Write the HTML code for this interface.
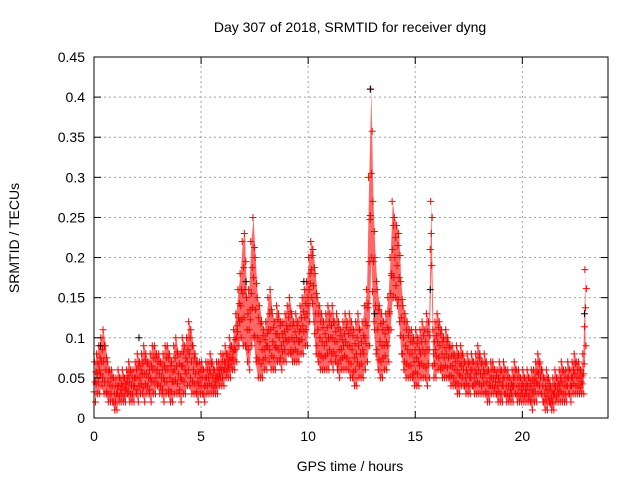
<!DOCTYPE html>
<html><head><meta charset="utf-8"><style>
body{margin:0;background:#fff;}
svg text{font-family:"Liberation Sans",sans-serif;font-size:14px;fill:#000;}
</style></head><body>
<svg id="chart" width="640" height="480">
<text x="350" y="32" text-anchor="middle">Day 307 of 2018, SRMTID for receiver dyng</text>
<text x="0" y="0" transform="translate(19,238) rotate(-90)" text-anchor="middle">SRMTID / TECUs</text>
<text x="350" y="471" text-anchor="middle">GPS time / hours</text>
<g id="grid"></g>
<g id="marks"></g>
<rect x="94" y="57" width="514" height="361" fill="none" stroke="#000" stroke-width="1"/>
<g id="ticks"></g>
</svg>
<script>
const xTicks=[0,5,10,15,20];
const yTicks=[0,0.05,0.1,0.15,0.2,0.25,0.3,0.35,0.4,0.45];
const yTickLabels=["0","0.05","0.1","0.15","0.2","0.25","0.3","0.35","0.4","0.45"];
const binStart=0, binStep=0.1;
const hiVals=[.07,.08,.09,.10,.11,.09,.07,.06,.06,.05,
.05,.06,.05,.06,.05,.06,.07,.06,.06,.07,
.08,.07,.08,.09,.08,.07,.08,.09,.09,.08,
.08,.07,.08,.09,.09,.08,.07,.09,.10,.08,
.08,.10,.09,.10,.12,.11,.09,.08,.07,.07,
.07,.06,.07,.07,.08,.07,.06,.07,.07,.08,
.08,.09,.08,.10,.09,.11,.13,.16,.18,.22,
.23,.15,.16,.22,.25,.20,.15,.14,.12,.11,
.12,.15,.16,.13,.12,.14,.13,.12,.12,.13,
.14,.15,.13,.12,.13,.12,.14,.15,.16,.17,
.20,.22,.21,.18,.15,.14,.13,.12,.13,.14,
.13,.14,.12,.13,.12,.11,.12,.13,.12,.13,
.12,.11,.12,.13,.11,.12,.14,.16,.30,.41,
.27,.20,.16,.14,.13,.12,.13,.15,.20,.27,
.25,.24,.23,.17,.14,.13,.12,.11,.11,.10,
.11,.10,.11,.12,.11,.13,.12,.27,.11,.12,
.13,.12,.11,.10,.11,.10,.09,.09,.08,.09,
.08,.09,.08,.07,.08,.07,.08,.07,.08,.09,
.08,.07,.08,.07,.06,.07,.07,.06,.06,.07,
.06,.07,.06,.06,.05,.06,.07,.06,.06,.05,
.06,.05,.06,.05,.06,.06,.07,.08,.07,.06,
.05,.06,.05,.04,.05,.06,.05,.06,.07,.06,
.06,.07,.06,.07,.08,.07,.07,.06,.08,.185];
const loVals=[.02,.03,.03,.04,.03,.03,.02,.02,.02,.01,
.01,.02,.02,.02,.02,.03,.02,.02,.02,.03,
.02,.03,.03,.02,.03,.03,.02,.03,.03,.04,
.03,.03,.02,.03,.03,.02,.02,.03,.03,.03,
.02,.03,.03,.04,.04,.03,.03,.03,.02,.03,
.03,.02,.03,.03,.03,.03,.03,.03,.04,.04,
.04,.05,.05,.05,.06,.06,.07,.09,.10,.09,
.09,.07,.06,.09,.10,.07,.05,.05,.05,.06,
.06,.07,.06,.06,.06,.07,.07,.06,.07,.07,
.08,.08,.07,.07,.07,.07,.08,.08,.09,.09,
.12,.15,.12,.08,.07,.06,.06,.06,.06,.06,
.07,.06,.07,.06,.05,.06,.06,.06,.06,.05,
.05,.04,.04,.05,.05,.05,.06,.07,.09,.20,
.12,.08,.06,.05,.05,.06,.06,.07,.11,.15,
.15,.14,.12,.08,.06,.05,.05,.05,.05,.04,
.04,.04,.05,.05,.05,.04,.05,.19,.05,.05,
.06,.06,.05,.05,.05,.05,.04,.04,.04,.03,
.03,.04,.04,.03,.03,.03,.04,.03,.03,.03,
.03,.03,.03,.02,.02,.03,.03,.03,.02,.02,
.02,.03,.02,.02,.02,.02,.03,.02,.02,.02,
.02,.02,.02,.02,.01,.02,.02,.03,.03,.02,
.01,.01,.02,.01,.01,.02,.02,.02,.02,.02,
.02,.03,.02,.03,.03,.03,.03,.03,.03,.09];
const blackTimes=[0.3,2.1,7.1,9.8,12.9,13.1,15.7,22.9];
const blackVals=[0.09,0.10,0.17,0.17,0.41,0.13,0.16,0.13];

const X0=94,X1=608,Y0=418,Y1=57;
const xs=v=>X0+(v/24)*(X1-X0);
const ys=v=>Y0-(v/0.45)*(Y0-Y1);
const NS="http://www.w3.org/2000/svg";
const grid=document.getElementById('grid'),ticks=document.getElementById('ticks'),marks=document.getElementById('marks');
function mk(tag,at,parent){const e=document.createElementNS(NS,tag);for(const k in at)e.setAttribute(k,at[k]);parent.appendChild(e);return e;}
yTicks.forEach((v,i)=>{
  const y=ys(v);
  if(i>0&&i<yTicks.length-1){const g=mk('line',{x1:X0,x2:X1,y1:y,y2:y,stroke:'#a0a0a0','stroke-dasharray':'2,3'},grid);
  
  }
  mk('line',{x1:X0,x2:X0+7,y1:y,y2:y,stroke:'#000'},ticks);
  mk('line',{x1:X1,x2:X1-7,y1:y,y2:y,stroke:'#000'},ticks);
  const t=mk('text',{x:X0-9,y:y+5,'text-anchor':'end'},ticks);t.textContent=yTickLabels[i];
  
  
});
xTicks.forEach(v=>{
  const x=xs(v);
  if(v>0){const g=mk('line',{x1:x,x2:x,y1:Y0,y2:Y1,stroke:'#a0a0a0','stroke-dasharray':'2,3'},grid);
  
  }
  mk('line',{x1:x,x2:x,y1:Y0,y2:Y0-7,stroke:'#000'},ticks);
  mk('line',{x1:x,x2:x,y1:Y1,y2:Y1+7,stroke:'#000'},ticks);
  const t=mk('text',{x:x,y:Y0+23,'text-anchor':'middle'},ticks);t.textContent=String(v);
  
  
});
let pts=[];
hiVals.forEach((v,i)=>pts.push(xs(binStart+i*binStep+0.05)+','+ys(v)));
for(let i=loVals.length-1;i>=0;i--)pts.push(xs(binStart+i*binStep+0.05)+','+ys(loVals[i]));
const band=mk('polygon',{points:pts.join(' '),fill:'#ff0000','fill-opacity':'0.6',stroke:'none'},marks);


function plus(x,y,c,name){
  const p=mk('path',{d:`M${x-3.5},${y}h7M${x},${y-3.5}v7`,stroke:c,'stroke-width':1,fill:'none'},marks);
  
  
}
hiVals.forEach((h,i)=>{
  const l=loVals[i],t=binStart+i*binStep;
  const m=(h+l)/2;
  plus(xs(t+0.02),ys(h),'#ff0000','srmtid-point');
  plus(xs(t+0.07),ys(l),'#ff0000','srmtid-point');
  plus(xs(t+0.05),ys(m),'#ff0000','srmtid-point');
  plus(xs(t+0.09),ys((h+m)/2),'#ff0000','srmtid-point');
  plus(xs(t+0.0),ys((l+m)/2),'#ff0000','srmtid-point');
});
blackTimes.forEach((t,i)=>plus(xs(t),ys(blackVals[i]),'#000','srmtid-point-black'));
</script>
</body></html>
